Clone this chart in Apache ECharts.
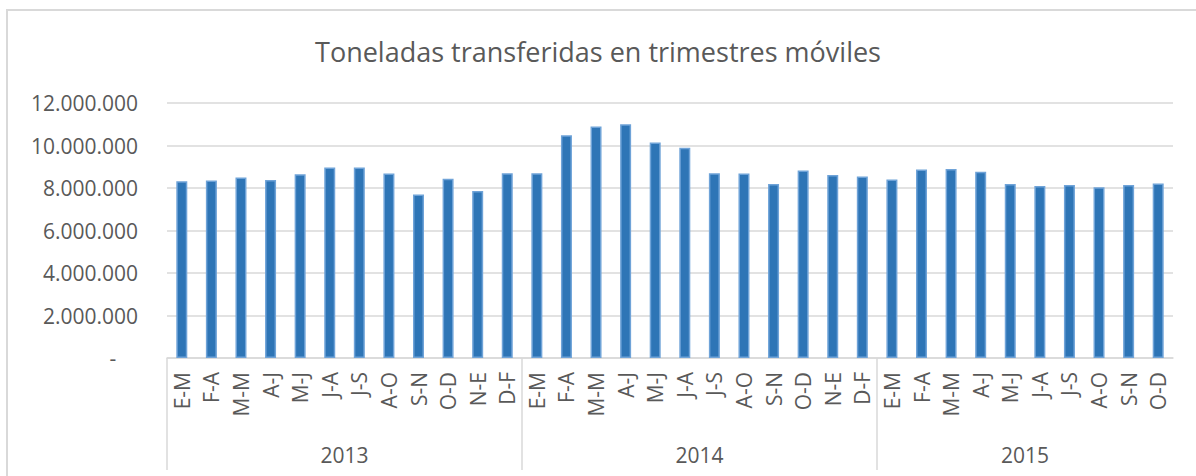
<!DOCTYPE html>
<html>
<head>
<meta charset="utf-8">
<script src="https://cdn.jsdelivr.net/npm/echarts@6/dist/echarts.min.js"></script>
<style>
  html, body { margin: 0; padding: 0; background: #fff; }
  #frame { position: absolute; left: 6px; top: 9px; width: 1200px; height: 480px; border: 2px solid #d9d9d9; box-sizing: border-box; }
  #chart { position: absolute; left: 0; top: 0; width: 1196px; height: 476px; }
</style>
</head>
<body>
<div id="frame"></div>
<div id="chart"></div>
<script>
// trimestres moviles, 2013-2015
var periods = ['E-M', 'F-A', 'M-M', 'A-J', 'M-J', 'J-A', 'J-S', 'A-O', 'S-N', 'O-D', 'N-E', 'D-F',
               'E-M', 'F-A', 'M-M', 'A-J', 'M-J', 'J-A', 'J-S', 'A-O', 'S-N', 'O-D', 'N-E', 'D-F',
               'E-M', 'F-A', 'M-M', 'A-J', 'M-J', 'J-A', 'J-S', 'A-O', 'S-N', 'O-D'];
var years = ['2013', '2014', '2015'];
var yearSizes = [12, 12, 10];
var tonnes = [8320000, 8350000, 8490000, 8380000, 8650000, 8960000, 8970000, 8680000, 7690000, 8440000, 7860000, 8690000,
              8690000, 10480000, 10890000, 11000000, 10140000, 9900000, 8690000, 8680000, 8190000, 8820000, 8610000, 8540000,
              8400000, 8870000, 8900000, 8770000, 8190000, 8100000, 8140000, 8030000, 8140000, 8210000];

var ink = '#595959';
var rule = '#d9d9d9';
var font = 'Open Sans';

// second axis: boundaries 0..34, year label at the middle of each group
var bounds = [];
for (var i = 0; i <= periods.length; i++) bounds.push('');
var starts = [];
var mids = {};
var pos = 0;
years.forEach(function(y, k) {
  starts.push(pos);
  mids[pos + yearSizes[k] / 2] = y;
  pos += yearSizes[k];
});

function fmt(v) {
  if (v === 0) return '-    ';
  return String(v).replace(/\B(?=(\d{3})+(?!\d))/g, '.');
}

var chart = echarts.init(document.getElementById('chart'), null, { renderer: 'svg' });
chart.setOption({
  animation: false,
  textStyle: { fontFamily: font },
  title: {
    text: 'Toneladas transferidas en trimestres móviles',
    left: 'center',
    top: 33,
    textStyle: { color: ink, fontSize: 27, fontWeight: 'normal', fontFamily: font }
  },
  grid: { left: 167, right: 23, top: 103, bottom: 118 },
  xAxis: [
    {
      type: 'category',
      data: periods,
      axisLine: { lineStyle: { color: rule, width: 1.5 } },
      axisTick: { show: false },
      axisLabel: { color: ink, fontSize: 21, rotate: 90, margin: 14, interval: 0, fontFamily: font }
    },
    {
      type: 'category',
      data: bounds,
      position: 'bottom',
      boundaryGap: false,
      axisLine: { show: false },
      axisTick: {
        show: true,
        length: 112,
        interval: function(idx) { return starts.indexOf(idx) >= 0; },
        lineStyle: { color: rule, width: 1.5 }
      },
      axisLabel: {
        show: true,
        interval: 0,
        margin: 86,
        color: ink,
        fontSize: 21,
        fontFamily: font,
        formatter: function(v, idx) { return mids[idx] || ''; }
      }
    }
  ],
  yAxis: {
    type: 'value',
    min: 0,
    max: 12000000,
    interval: 2000000,
    axisLine: { show: false },
    axisTick: { show: false },
    axisLabel: { color: ink, fontSize: 21, margin: 29, fontFamily: font, formatter: fmt },
    splitLine: { lineStyle: { color: rule, width: 1.5 } }
  },
  series: [{
    type: 'bar',
    xAxisIndex: 0,
    data: tonnes,
    barWidth: 11,
    itemStyle: { color: '#2e75b6', borderColor: '#6fa3d8', borderWidth: 1.5 }
  }]
});
</script>
</body>
</html>
